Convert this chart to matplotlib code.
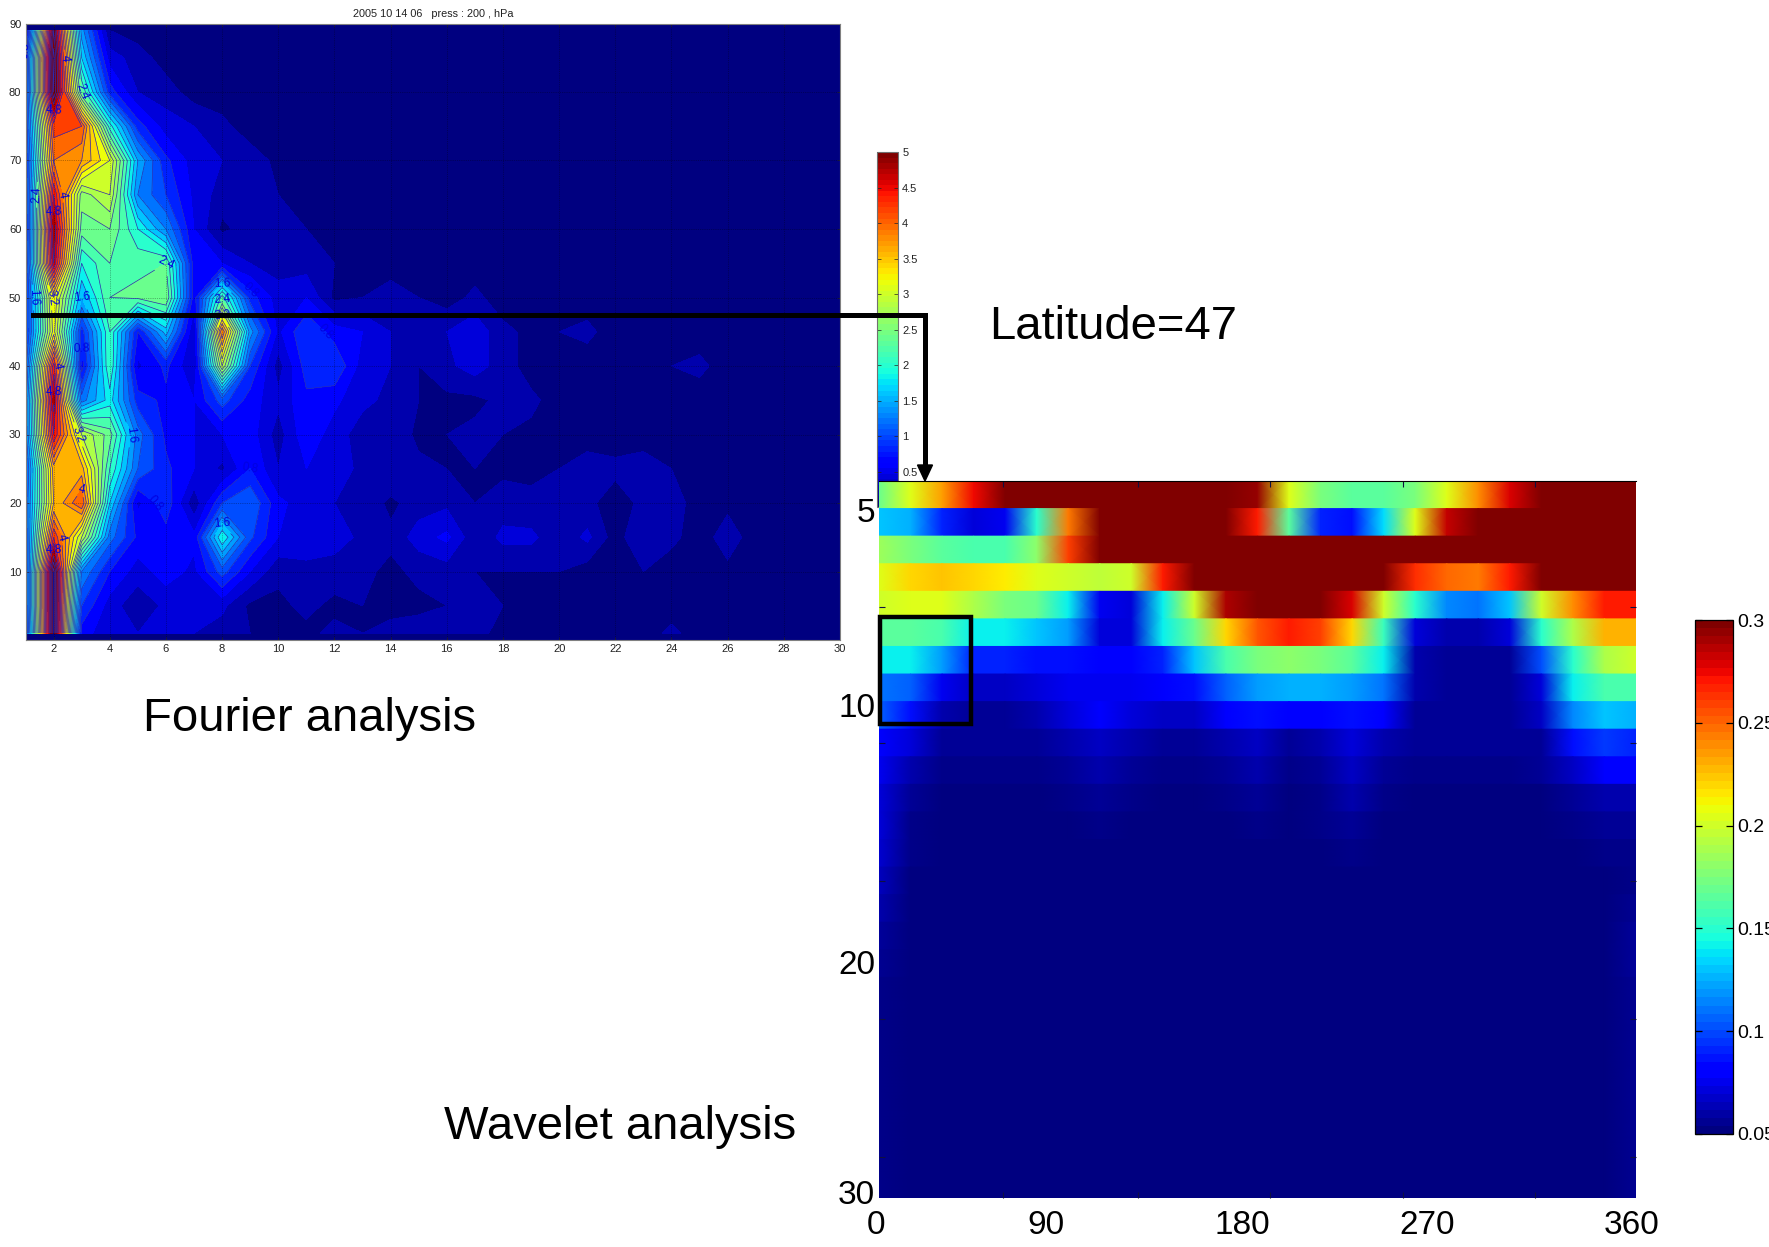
import numpy as np
import matplotlib
matplotlib.use("Agg")
import matplotlib.pyplot as plt
from matplotlib.cm import ScalarMappable
from matplotlib.colors import Normalize
from matplotlib.lines import Line2D
from matplotlib.patches import Polygon, Rectangle

plt.rcParams['font.family'] = ['Liberation Sans', 'DejaVu Sans']

W, H = 1769, 1247

# Fourier panel, wavenumber 1..30 against latitude
wavenumber = np.arange(1, 31)
latitude = [1, 5, 10, 15, 20, 25, 30, 35, 40, 45, 50, 55, 60, 65, 70, 75, 80, 85, 89]
lat01 = [.9, 5.5, .7, .45, .4, .5, .4, .3, .2, .15, .15, .25, .2, .25, .3, .35, .25, .15, .1, .1, .1, .1, .1, .25, .1, .1, .1, .1, .1, .1]
lat05 = [1.0, 5.5, 1.0, .5, .25, .45, .5, .45, .15, .15, .25, .15, .2, .15, .15, .2, .25, .2, .1, .1, .1, .1, .1, .1, .1, .15, .1, .1, .1, .1]
lat10 = [1.0, 5.5, 1.4, .8, .5, .7, .55, 1.1, .6, .25, .35, .3, .25, .15, .25, .3, .2, .2, .2, .2, .1, .2, .2, .1, .1, .15, .1, .1, .1, .1]
lat15 = [1.1, 4.4, 3.0, 1.3, .75, .7, .65, 2.0, 1.05, .6, .5, .5, .35, .25, .5, .65, .25, .45, .45, .25, .45, .1, .4, .25, .1, .3, .1, .1, .1, .1]
lat20 = [1.2, 3.6, 4.2, 1.8, .55, .95, .25, 1.0, 1.2, .65, .5, .4, .35, .15, .3, .35, .2, .3, .25, .25, .25, .1, .25, .3, .1, .15, .1, .1, .1, .1]
lat25 = [1.1, 3.7, 3.7, 2.2, 1.2, .85, .6, .35, .8, .4, .6, .5, .35, .4, .25, .2, .2, .15, .15, .2, .3, .25, .3, .2, .1, .1, .1, .1, .1, .1]
lat30 = [1.3, 4.6, 3.0, 2.5, 1.3, .75, .6, .6, .7, .3, .75, .5, .3, .35, .15, .2, .25, .2, .15, .1, .1, .1, .1, .1, .1, .1, .1, .1, .1, .1]
lat35 = [1.3, 4.9, 1.3, 1.9, .9, .75, .6, 1.1, .7, .45, .75, .65, .45, .35, .2, .15, .15, .25, .25, .1, .1, .1, .1, .1, .1, .1, .1, .1, .1, .1]
lat40 = [1.1, 4.5, .7, 2.2, .55, .85, .4, 3.0, 1.0, .3, .9, 1.0, .5, .4, .2, .35, .5, .3, .1, .1, .1, .1, .1, .2, .25, .1, .1, .1, .1, .1]
lat45 = [.9, 3.3, .9, 2.2, .8, 1.7, .4, 4.0, 1.5, .55, 1.0, .7, .6, .4, .35, .4, .55, .25, .15, .2, .25, .1, .1, .1, .1, .1, .1, .1, .1, .1]
lat50 = [.9, 3.4, 1.6, 2.4, 2.45, 2.6, .7, 2.3, .9, .5, .6, .15, .2, .3, .2, .1, .25, .1, .1, .1, .1, .1, .1, .1, .1, .1, .1, .1, .1, .1]
lat55 = [.9, 4.8, 2.0, 2.4, 2.35, 2.4, .7, .6, .4, .3, .3, .2, .1, .1, .1, .1, .1, .1, .1, .1, .1, .1, .1, .1, .1, .1, .1, .1, .1, .1]
lat60 = [.8, 5.0, 2.5, 2.6, 2.0, 1.4, .6, .15, .3, .3, .2, .1, .1, .1, .1, .1, .1, .1, .1, .1, .1, .1, .1, .1, .1, .1, .1, .1, .1, .1]
lat65 = [.9, 4.6, 2.7, 3.0, 1.4, 1.0, .55, .3, .3, .2, .1, .1, .1, .1, .1, .1, .1, .1, .1, .1, .1, .1, .1, .1, .1, .1, .1, .1, .1, .1]
lat70 = [.9, 4.0, 3.8, 3.2, 1.6, .85, .5, .4, .3, .15, .1, .1, .1, .1, .1, .1, .1, .1, .1, .1, .1, .1, .1, .1, .1, .1, .1, .1, .1, .1]
lat75 = [1.0, 4.3, 4.2, 2.1, .9, .5, .4, .25, .1, .1, .1, .1, .1, .1, .1, .1, .1, .1, .1, .1, .1, .1, .1, .1, .1, .1, .1, .1, .1, .1]
lat80 = [1.0, 5.4, 2.4, .9, .4, .3, .1, .1, .1, .1, .1, .1, .1, .1, .1, .1, .1, .1, .1, .1, .1, .1, .1, .1, .1, .1, .1, .1, .1, .1]
lat85 = [.9, 5.5, 1.8, .5, .3, .1, .1, .1, .1, .1, .1, .1, .1, .1, .1, .1, .1, .1, .1, .1, .1, .1, .1, .1, .1, .1, .1, .1, .1, .1]
lat89 = [.5, 5.2, 1.5, .2, .1, .1, .1, .1, .1, .1, .1, .1, .1, .1, .1, .1, .1, .1, .1, .1, .1, .1, .1, .1, .1, .1, .1, .1, .1, .1]
fourier = np.array([lat01, lat05, lat10, lat15, lat20, lat25, lat30, lat35, lat40, lat45,
                    lat50, lat55, lat60, lat65, lat70, lat75, lat80, lat85, lat89])
fourier_levels = np.round(np.arange(0, 5.5, 0.2), 1)
fourier_labelled = [0.8, 1.6, 2.4, 3.2, 4.0, 4.8]

# wavelet panel, one list per scale row, longitude every 15 degrees
longitude = np.arange(0, 361, 15)
d = .31
row00 = [.17, .205, .235, .275, d, d, d, d, d, d, d, d, .295, .205, .175, .165, .165, .175, .205, .24, .28, d, d, d, d]
row01 = [.13, .125, .09, .07, .075, .15, .245, d, d, d, d, d, .27, .165, .09, .085, .135, .205, .285, d, d, d, d, d, d]
row02 = [.185, .175, .165, .16, .16, .18, .26, .305, d, d, d, d, d, d, d, d, d, d, d, d, d, d, d, d, d]
row03 = [.205, .22, .225, .22, .215, .205, .2, .195, .2, .27, d, d, d, d, d, d, .3, .265, .25, .245, .27, d, d, d, d]
row04 = [.2, .205, .205, .19, .175, .17, .14, .075, .07, .14, .2, .29, d, d, d, .28, .2, .15, .115, .11, .13, .2, .24, .27, .27]
row05 = [.165, .165, .16, .14, .14, .13, .12, .07, .07, .14, .17, .22, .255, .27, .26, .22, .155, .07, .06, .06, .07, .15, .19, .23, .23]
row06 = [.14, .14, .12, .09, .09, .085, .085, .08, .08, .09, .13, .16, .175, .18, .175, .165, .14, .06, .055, .055, .055, .1, .15, .19, .2]
row07 = [.11, .105, .075, .065, .065, .07, .075, .075, .075, .08, .085, .105, .12, .125, .125, .12, .11, .06, .055, .055, .055, .07, .14, .16, .16]
row08 = [.105, .085, .06, .055, .055, .06, .07, .08, .07, .065, .065, .08, .085, .08, .08, .085, .08, .055, .055, .055, .055, .065, .115, .13, .125]
row09 = [.08, .07, .055, .055, .055, .055, .06, .065, .06, .055, .055, .06, .065, .055, .06, .07, .06, .055, .055, .055, .055, .055, .085, .095, .09]
row10 = [.075, .06, .052, .052, .052, .052, .055, .06, .055, .052, .052, .055, .06, .052, .055, .065, .055, .052, .052, .052, .052, .055, .065, .08, .08]
row11 = [.07, .055, .05, .05, .05, .05, .052, .055, .052, .05, .05, .052, .055, .05, .052, .06, .052, .05, .05, .05, .05, .05, .055, .06, .06]
row12 = [.07, .052, .05, .05, .05, .05, .05, .052, .05, .05, .05, .05, .052, .05, .052, .055, .05, .05, .05, .05, .05, .05, .052, .055, .055]
row13 = [.068, .052, .05, .05, .05, .05, .05, .05, .05, .05, .05, .05, .05, .05, .05, .052, .05, .05, .05, .05, .05, .05, .05, .052, .052]
row14 = [.064, .05, .05, .05, .05, .05, .05, .05, .05, .05, .05, .05, .05, .05, .05, .05, .05, .05, .05, .05, .05, .05, .05, .05, .052]
row15 = [.06, .05, .05, .05, .05, .05, .05, .05, .05, .05, .05, .05, .05, .05, .05, .05, .05, .05, .05, .05, .05, .05, .05, .05, .054]
row16 = [.056, .05, .05, .05, .05, .05, .05, .05, .05, .05, .05, .05, .05, .05, .05, .05, .05, .05, .05, .05, .05, .05, .05, .05, .056]
row17 = [.054, .05, .05, .05, .05, .05, .05, .05, .05, .05, .05, .05, .05, .05, .05, .05, .05, .05, .05, .05, .05, .05, .05, .05, .056]
row18 = [.052, .05, .05, .05, .05, .05, .05, .05, .05, .05, .05, .05, .05, .05, .05, .05, .05, .05, .05, .05, .05, .05, .05, .05, .054]
wavelet = [row00, row01, row02, row03, row04, row05, row06, row07, row08, row09, row10,
           row11, row12, row13, row14, row15, row16, row17, row18] + [row18] * 7

fourier_xticks = list(range(2, 31, 2))
fourier_yticks = list(range(10, 91, 10))
cbar1_ticks = [0.5, 1, 1.5, 2, 2.5, 3, 3.5, 4, 4.5, 5]
cbar2_ticks = [0.05, 0.1, 0.15, 0.2, 0.25, 0.3]
cbar2_labels = ['0.05', '0.1', '0.15', '0.2', '0.25', '0.3']
wavelet_xticks = [59, 123, 186, 249, 312]
wavelet_yticks = [4.57, 9.5, 14.5, 19.5, 24.5]


def box(x0, y0, x1, y1):
    return [x0 / W, 1 - y1 / H, (x1 - x0) / W, (y1 - y0) / H]


fig = plt.figure(figsize=(W / 100, H / 100), dpi=100)

# Fourier contour plot
jet = plt.get_cmap('jet')
ax1 = fig.add_axes(box(25.5, 23.5, 840, 640), facecolor=jet(0.0))
band_colors = [jet(v / 5) for v in fourier_levels[:-1]]
ax1.contourf(wavenumber, latitude, fourier, levels=fourier_levels, colors=band_colors)
cs = ax1.contour(wavenumber, latitude, fourier, levels=fourier_levels[4:], colors='#2a2ab4', linewidths=0.5)
ax1.clabel(cs, levels=fourier_labelled, fontsize=8.5, colors='#0000e0', fmt='%g', inline=True)
ax1.set_xlim(1, 30)
ax1.set_ylim(0, 90)
ax1.set_xticks(fourier_xticks)
ax1.set_yticks(fourier_yticks)
ax1.tick_params(direction='in', length=2.5, width=0.5, labelsize=8, top=True, right=True, pad=3, colors='#222222')
ax1.grid(True, linestyle=':', color='black', linewidth=0.5, alpha=0.55)
for s in ax1.spines.values():
    s.set_color('#808080')
    s.set_linewidth(0.8)
ax1.set_title('2005 10 14 06   press : 200 , hPa', fontsize=7.8, pad=5, color='#222222')

# first colorbar, partly hidden behind the wavelet panel
cax1 = fig.add_axes(box(877, 152, 898, 507))
cb1 = fig.colorbar(ScalarMappable(Normalize(0, 5), plt.get_cmap('jet', 64)), cax=cax1)
cb1.set_ticks(cbar1_ticks)
cb1.set_ticklabels(['0.5', '1', '1.5', '2', '2.5', '3', '3.5', '4', '4.5', '5'])
cb1.ax.tick_params(direction='in', length=3, width=0.5, labelsize=8, pad=3, left=True, right=True, colors='#222222')
cb1.outline.set_edgecolor('#707070')
cb1.outline.set_linewidth(0.8)

# wavelet panel, sharp rows and smooth along longitude
ax2 = fig.add_axes(box(879, 481, 1636, 1198), zorder=3)
norm2 = Normalize(0.05, 0.3)
for i, row in enumerate(wavelet):
    ax2.pcolormesh(longitude, [i, i + 1], [row, row], shading='gouraud', cmap='jet', norm=norm2)
ax2.set_xlim(0, 360)
ax2.set_ylim(26, 0)
ax2.set_xticks(wavelet_xticks)
ax2.set_yticks(wavelet_yticks)
ax2.tick_params(direction='in', length=4, width=0.8, labelleft=False, labelbottom=False, top=True, right=True,
                color='#101040')
for name, s in ax2.spines.items():
    s.set_visible(name == 'top')
ax2.spines['top'].set_linewidth(0.8)

# second colorbar
cax2 = fig.add_axes(box(1695, 620, 1733, 1134))
cb2 = fig.colorbar(ScalarMappable(norm2, plt.get_cmap('jet', 64)), cax=cax2)
cb2.set_ticks(cbar2_ticks)
cb2.set_ticklabels(cbar2_labels)
cb2.ax.tick_params(direction='in', length=5, width=0.9, pad=3, left=True, right=True)
for t in cb2.ax.get_yticklabels():
    t.set_fontfamily(['Liberation Sans Narrow', 'Liberation Sans'])
    t.set_fontsize(14)
cb2.outline.set_linewidth(0.9)


# annotations drawn on top, in figure pixels
def note(x, y, s, size=24, ha='center'):
    return fig.text(x / W, 1 - y / H, s, fontsize=size, ha=ha, va='center', zorder=10)


note(143, 719, 'Fourier analysis', size=34, ha='left')
note(989, 327, 'Latitude=47', size=34, ha='left')
note(444, 1127, 'Wavelet analysis', size=34, ha='left')

for y, s in [(514, '5'), (708, '10'), (966, '20'), (1196, '30')]:
    note(875, y, s, ha='right')
for x, s in [(876, '0'), (1046, '90'), (1242, '180'), (1427, '270'), (1632, '360')]:
    note(x, 1226, s)

fig.add_artist(Line2D([33 / W, 925 / W, 925 / W], [1 - 315 / H, 1 - 315 / H, 1 - 466 / H], color='black',
                      linewidth=3.6, solid_joinstyle='miter', zorder=8))
fig.add_artist(Polygon([[917.5 / W, 1 - 465 / H], [932.5 / W, 1 - 465 / H], [925 / W, 1 - 481 / H]],
                       closed=True, transform=fig.transFigure, color='black', zorder=8))
fig.add_artist(Rectangle((879.5 / W, 1 - 724 / H), 91 / W, 107 / H, transform=fig.transFigure, fill=False,
                         edgecolor='black', linewidth=3.2, zorder=8))

fig.savefig('out.png', dpi=100)
